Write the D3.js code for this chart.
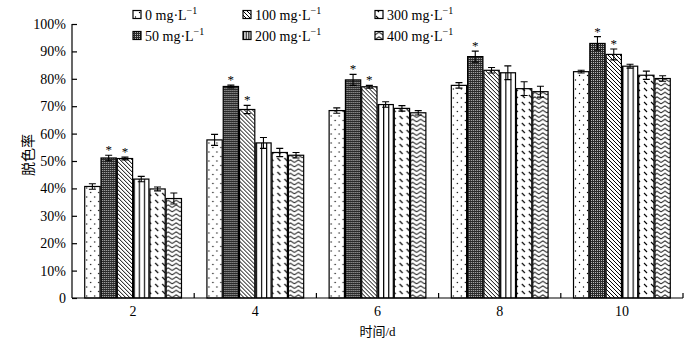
<!DOCTYPE html>
<html>
<head>
<meta charset="utf-8">
<script src="https://cdn.jsdelivr.net/npm/d3@7"></script>
<style>
  body { margin: 0; background: #fff; }
  text { font-family: "Liberation Serif", "Times New Roman", serif; fill: #000; }
  .cjk { font-family: "Noto Sans CJK SC", sans-serif; }
</style>
</head>
<body>
<div id="chart"></div>
<script>
// time points (days)
const times = ["2", "4", "6", "8", "10"];
// dye concentration series
const concs = ["0", "50", "100", "200", "300", "400"];
const patternIds = ["pDots", "pCheck", "pDiag", "pVert", "pDash", "pWave"];

// decolorization rate (%) per concentration
const rate0   = [40.7, 57.7, 68.4, 77.6, 82.6];
const rate50  = [51.1, 77.2, 79.6, 88.1, 92.9];
const rate100 = [50.9, 68.8, 77.1, 83.1, 88.9];
const rate200 = [43.4, 56.6, 70.6, 82.2, 84.6];
const rate300 = [39.8, 53.1, 69.2, 76.4, 81.3];
const rate400 = [36.3, 52.1, 67.6, 75.3, 80.1];

// error bar half-lengths (%)
const err0   = [1.0, 2.0, 1.0, 1.0, 0.5];
const err50  = [1.0, 0.5, 2.0, 2.0, 2.5];
const err100 = [0.5, 1.5, 0.5, 1.0, 2.0];
const err200 = [1.0, 2.0, 1.0, 2.5, 0.7];
const err300 = [0.7, 1.5, 1.0, 2.5, 1.5];
const err400 = [2.0, 1.0, 0.8, 2.0, 1.0];

// significance marks (*)
const sig50  = [1, 1, 1, 1, 1];
const sig100 = [1, 1, 1, 0, 1];
const sigNone = [0, 0, 0, 0, 0];

const yTicks = [0, 10, 20, 30, 40, 50, 60, 70, 80, 90, 100];

const rates = [rate0, rate50, rate100, rate200, rate300, rate400];
const errs = [err0, err50, err100, err200, err300, err400];
const sigs = [sigNone, sig50, sig100, sigNone, sigNone, sigNone];

const W = 691, H = 341;
const margin = {top: 24, right: 8, bottom: 43, left: 72};
const width = W - margin.left - margin.right;
const height = H - margin.top - margin.bottom;

const svg = d3.select("#chart").append("svg")
    .attr("width", W)
    .attr("height", H);

// fill patterns
const defs = svg.append("defs");

let p = defs.append("pattern").attr("id", "pDots")
    .attr("patternUnits", "userSpaceOnUse").attr("width", 8).attr("height", 9);
p.append("rect").attr("width", 8).attr("height", 9).attr("fill", "#fff");
p.append("circle").attr("cx", 2.5).attr("cy", 2).attr("r", 0.7).attr("fill", "#000");
p.append("circle").attr("cx", 6.5).attr("cy", 6.5).attr("r", 0.7).attr("fill", "#000");

p = defs.append("pattern").attr("id", "pCheck")
    .attr("patternUnits", "userSpaceOnUse").attr("width", 2).attr("height", 2);
p.append("rect").attr("width", 2).attr("height", 2).attr("fill", "#2a2a2a");
p.append("rect").attr("width", 1).attr("height", 1).attr("fill", "#bbb");

p = defs.append("pattern").attr("id", "pDiag")
    .attr("patternUnits", "userSpaceOnUse").attr("width", 4).attr("height", 4);
p.append("rect").attr("width", 4).attr("height", 4).attr("fill", "#fff");
p.append("path").attr("d", "M-1,-1L5,5M-1,3L1,5M3,-1L5,1")
    .attr("stroke", "#000").attr("stroke-width", 1);

p = defs.append("pattern").attr("id", "pVert")
    .attr("patternUnits", "objectBoundingBox").attr("width", 1 / 3).attr("height", 1);
p.append("rect").attr("width", 40).attr("height", 400).attr("fill", "#fff");
p.append("line").attr("x1", 0.5).attr("x2", 0.5).attr("y1", 0).attr("y2", 400)
    .attr("stroke", "#000").attr("stroke-width", 1.3);

p = defs.append("pattern").attr("id", "pDash")
    .attr("patternUnits", "userSpaceOnUse").attr("width", 7).attr("height", 7);
p.append("rect").attr("width", 7).attr("height", 7).attr("fill", "#fff");
p.append("path").attr("d", "M1,1L4,4").attr("stroke", "#000").attr("stroke-width", 1.1);

p = defs.append("pattern").attr("id", "pWave")
    .attr("patternUnits", "userSpaceOnUse").attr("width", 8).attr("height", 4.5);
p.append("rect").attr("width", 8).attr("height", 4.5).attr("fill", "#fff");
p.append("path").attr("d", "M0,3.5L4,0.8L8,3.5").attr("fill", "none")
    .attr("stroke", "#000").attr("stroke-width", 1);

const g = svg.append("g").attr("transform", `translate(${margin.left},${margin.top})`);

// scales
const x0 = d3.scaleBand().domain(times).range([0, width])
    .paddingInner(0.2).paddingOuter(0.1);
const x1 = d3.scaleBand().domain(concs).range([0, x0.bandwidth()]);
const y = d3.scaleLinear().domain([0, 100]).range([height, 0]);

// bars
times.forEach(function(t, ti) {
    const grp = g.append("g").attr("transform", `translate(${x0(t)},0)`);
    concs.forEach(function(c, ci) {
        const v = rates[ci][ti];
        const e = errs[ci][ti];
        const bx = x1(c);
        const bw = x1.bandwidth();
        grp.append("rect")
            .attr("x", bx + 0.5)
            .attr("y", y(v))
            .attr("width", bw - 1)
            .attr("height", height - y(v))
            .attr("fill", `url(#${patternIds[ci]})`)
            .attr("stroke", "#000")
            .attr("stroke-width", 1.2);

        // error bar
        const cx = bx + bw / 2;
        grp.append("path")
            .attr("d", `M${cx},${y(v + e)}V${y(v - e)}` +
                `M${cx - 3.5},${y(v + e)}H${cx + 3.5}` +
                `M${cx - 3.5},${y(v - e)}H${cx + 3.5}`)
            .attr("stroke", "#000")
            .attr("stroke-width", 1.1)
            .attr("fill", "none");

        if (sigs[ci][ti]) {
            grp.append("text")
                .attr("x", cx)
                .attr("y", y(v + e) - 1)
                .attr("text-anchor", "middle")
                .attr("font-size", 13)
                .text("*");
        }
    });
});

// y axis
const yAxis = g.append("g")
    .call(d3.axisLeft(y).tickValues(yTicks).tickSize(-5).tickPadding(6)
        .tickFormat(d => d === 0 ? "0" : d + "%"));
yAxis.select(".domain").attr("d", `M0,0V${height}`).attr("stroke-width", 1.2);
yAxis.selectAll("line").attr("stroke-width", 1.2);
yAxis.selectAll("text").attr("font-size", 14)
    .attr("font-family", "Liberation Serif, serif");

// x axis: boundary ticks between time groups
const xAxis = g.append("g").attr("transform", `translate(0,${height})`);
xAxis.append("line").attr("x1", 0).attr("x2", width)
    .attr("stroke", "#000").attr("stroke-width", 1.2);
const bounds = times.map(t => x0(t) + x0.bandwidth() + x0.step() * 0.1);
xAxis.selectAll(".bt").data(bounds).enter().append("line")
    .attr("x1", d => d).attr("x2", d => d)
    .attr("y1", 0).attr("y2", -5)
    .attr("stroke", "#000").attr("stroke-width", 1.2);
xAxis.selectAll(".xl").data(times).enter().append("text")
    .attr("x", d => x0(d) + x0.bandwidth() / 2)
    .attr("y", 18)
    .attr("text-anchor", "middle")
    .attr("font-size", 14)
    .text(d => d);

// axis titles
svg.append("text")
    .attr("x", margin.left + width / 2)
    .attr("y", 336)
    .attr("text-anchor", "middle")
    .attr("font-size", 13)
    .html('<tspan class="cjk">时间</tspan>/d');

svg.append("text")
    .attr("class", "cjk")
    .attr("transform", "translate(33,155) rotate(-90)")
    .attr("text-anchor", "middle")
    .attr("font-size", 14)
    .text("脱色率");

// legend: three columns, two rows
const legendCols = [133, 243, 375];
const legendRows = [15, 36];
concs.forEach(function(c, ci) {
    const lx = legendCols[Math.floor(ci / 2)];
    const ly = legendRows[ci % 2];
    const lg = svg.append("g").attr("transform", `translate(${lx},${ly})`);
    lg.append("rect")
        .attr("x", 0).attr("y", -4.5)
        .attr("width", 8).attr("height", 8)
        .attr("fill", `url(#${patternIds[ci]})`)
        .attr("stroke", "#000")
        .attr("stroke-width", 1.2);
    const t = lg.append("text")
        .attr("x", 12).attr("y", 4.5)
        .attr("font-size", 14);
    t.append("tspan").text(c + " mg·L");
    t.append("tspan").attr("dy", -6).attr("font-size", 10).text("−1");
});
</script>
</body>
</html>
